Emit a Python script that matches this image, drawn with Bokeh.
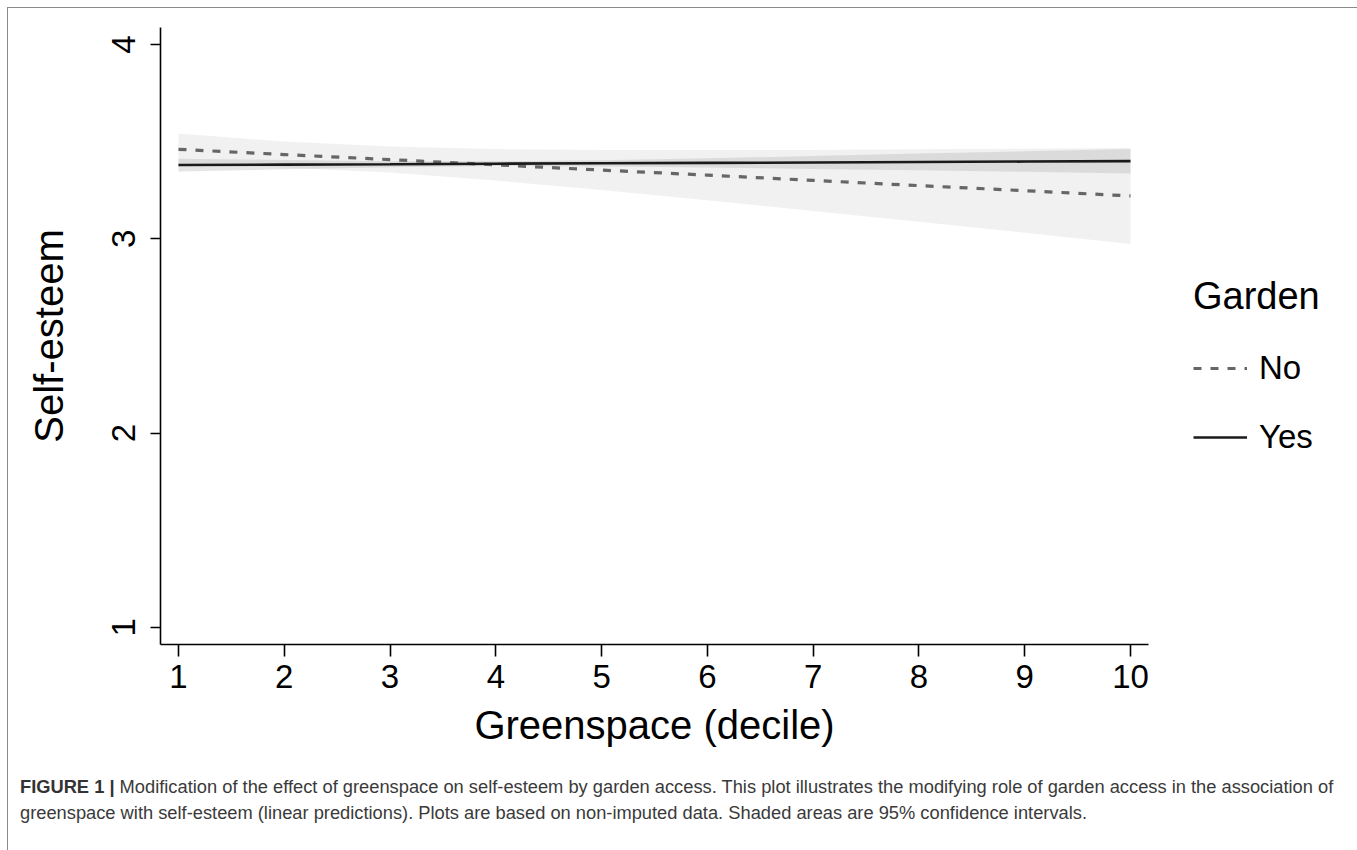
from bokeh.plotting import figure
from bokeh.models import Range1d, FixedTicker, Legend, LegendItem, ColumnDataSource, Div
from bokeh.layouts import column, row
from bokeh.embed import file_html
from bokeh.resources import INLINE

# ---- data ----
decile = [1, 2, 3, 4, 5, 6, 7, 8, 9, 10]
no_pred = [3.461, 3.434, 3.408, 3.381, 3.354, 3.328, 3.301, 3.274, 3.248, 3.221]
no_lower = [3.380, 3.367, 3.341, 3.300, 3.251, 3.199, 3.144, 3.088, 3.032, 2.974]
no_upper = [3.542, 3.501, 3.475, 3.462, 3.457, 3.457, 3.458, 3.461, 3.464, 3.468]
yes_pred = [3.380, 3.382, 3.384, 3.387, 3.389, 3.391, 3.393, 3.396, 3.398, 3.400]
yes_lower = [3.347, 3.358, 3.368, 3.375, 3.373, 3.367, 3.360, 3.353, 3.345, 3.337]
yes_upper = [3.413, 3.406, 3.400, 3.399, 3.405, 3.415, 3.426, 3.439, 3.451, 3.463]
x_ticks = [1, 2, 3, 4, 5, 6, 7, 8, 9, 10]
y_ticks = [1, 2, 3, 4]
legend_title = "Garden"
legend_labels = ["No", "Yes"]
x_label = "Greenspace (decile)"
y_label = "Self-esteem"
caption_bold = "FIGURE 1 |"
caption_line1 = ("Modification of the effect of greenspace on self-esteem by garden access. "
                 "This plot illustrates the modifying role of garden access in the association of")
caption_line2 = ("greenspace with self-esteem (linear predictions). Plots are based on non-imputed data. "
                 "Shaded areas are 95% confidence intervals.")

FONT = "Liberation Sans"
CAP_FONT = "'Liberation Sans Narrow', 'Liberation Sans', sans-serif"

W = 1348
W_MAIN = 1150
H_PLOT = 761
H_CAP = 841 - H_PLOT

src = ColumnDataSource(dict(x=decile, no=no_pred, nl=no_lower, nu=no_upper,
                            yes=yes_pred, yl=yes_lower, yu=yes_upper))

p = figure(width=W_MAIN, height=H_PLOT, output_backend="svg", toolbar_location=None,
           x_range=Range1d(0.83, 10.17), y_range=Range1d(0.912, 4.088),
           min_border_left=152, min_border_right=W_MAIN - 1140, min_border_top=19,
           min_border_bottom=H_PLOT - 636)
p.outline_line_color = None
p.xgrid.visible = False
p.ygrid.visible = False
p.background_fill_color = "white"
p.border_fill_color = "white"

# confidence bands
p.varea(x="x", y1="nl", y2="nu", source=src, fill_color="#e6e6e6", fill_alpha=0.55)
p.varea(x="x", y1="yl", y2="yu", source=src, fill_color="#a8a8a8", fill_alpha=0.3)
# prediction lines
no_style = dict(line_color="#666666", line_width=3.2, line_dash="8 9")
yes_style = dict(line_color="#1a1a1a", line_width=2.6)
p.line(x="x", y="no", source=src, **no_style)
p.line(x="x", y="yes", source=src, **yes_style)

for ax in (p.xaxis[0], p.yaxis[0]):
    ax.axis_line_color = "black"
    ax.axis_line_width = 1.6
    ax.major_tick_line_color = "black"
    ax.major_tick_line_width = 1.6
    ax.major_tick_in = 0
    ax.minor_tick_in = 0
    ax.minor_tick_out = 0
    ax.major_label_text_font = FONT
    ax.major_label_text_font_size = "33px"
    ax.major_label_text_color = "black"
    ax.axis_label_text_font = FONT
    ax.axis_label_text_font_size = "40px"
    ax.axis_label_text_font_style = "normal"
    ax.axis_label_text_color = "black"

p.xaxis.ticker = FixedTicker(ticks=x_ticks)
p.yaxis.ticker = FixedTicker(ticks=y_ticks)
p.xaxis.major_tick_out = 12
p.yaxis.major_tick_out = 10
p.xaxis.major_label_standoff = 8
p.yaxis.major_label_standoff = 15
p.yaxis.major_label_orientation = "vertical"
p.xaxis.axis_label = x_label
p.yaxis.axis_label = y_label
p.xaxis.axis_label_standoff = 12
p.yaxis.axis_label_standoff = 39

# legend panel (separate figure, whole area is its frame)
lf = figure(width=W - W_MAIN, height=H_PLOT, output_backend="svg", toolbar_location=None,
            x_range=Range1d(0, 1), y_range=Range1d(0, 1),
            min_border_left=0, min_border_right=0, min_border_top=0, min_border_bottom=0)
lf.axis.visible = False
lf.grid.visible = False
lf.outline_line_color = None
lf.background_fill_color = "white"
lf.border_fill_color = "white"
placeholder = ColumnDataSource(dict(x=[float("nan")], y=[float("nan")]))
g_no = lf.line(x="x", y="y", source=placeholder, **no_style)
g_yes = lf.line(x="x", y="y", source=placeholder, **yes_style)

legend = Legend(items=[LegendItem(label=legend_labels[0], renderers=[g_no]),
                       LegendItem(label=legend_labels[1], renderers=[g_yes])],
                location=(35, 187), title=legend_title,
                title_text_font=FONT, title_text_font_size="38px", title_text_font_style="normal",
                title_text_color="black", title_standoff=30,
                label_text_font=FONT, label_text_font_size="33px", label_text_color="black",
                glyph_width=54, glyph_height=40, label_height=40, label_standoff=12,
                spacing=29, padding=0, margin=0,
                border_line_color=None, background_fill_alpha=0)
lf.add_layout(legend, "center")

cap_html = (
    f'<div style="font-family:{CAP_FONT};font-size:18.3px;line-height:26px;color:#3a3a3a;'
    f'white-space:nowrap;padding-left:7px;padding-top:0px;">'
    f'<b style="color:#333333">{caption_bold}</b> {caption_line1}<br>{caption_line2}</div>'
)
cap = Div(text=cap_html, width=W, height=H_CAP)

layout = column(row(p, lf, spacing=0), cap, margin=(8, 0, 0, 8), spacing=0,
                styles={"outline": "1px solid #8a8a8a", "background-color": "white"})

open("out.html", "w").write(file_html(layout, INLINE))
